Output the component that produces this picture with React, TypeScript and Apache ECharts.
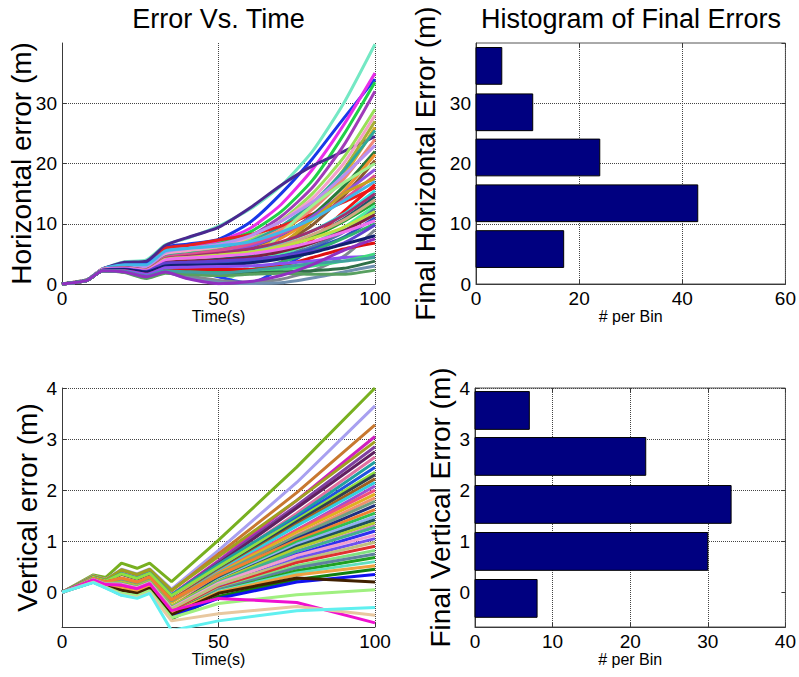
import React, { useEffect, useRef } from 'react';
import * as echarts from 'echarts';

// ---------- data ----------
const hTime = [0, 8, 13, 20, 27, 33, 40, 50, 60, 70, 80, 90, 100];
const hRuns = [
  [0, 0.7, 2.5, 3.7, 4.0, 6.5, 7.6, 9.6, 12.4, 16.3, 22, 30, 39.8],
  [0, 0.7, 2.5, 3.4, 3.5, 6.1, 6.6, 7.4, 10.2, 15, 20.8, 27.5, 34],
  [0, 0.7, 2.5, 3.1, 3.0, 5.6, 6.3, 7.1, 9.2, 13.2, 19, 26.4, 35],
  [0, 0.7, 2.4, 2.9, 2.7, 5.1, 5.8, 6.7, 8.6, 12, 17.2, 24.8, 33.5],
  [0, 0.7, 2.5, 3.6, 3.8, 6.4, 7.7, 9.4, 12.6, 16.4, 19.6, 22, 24.5],
  [0, 0.7, 2.4, 2.8, 2.5, 4.9, 5.4, 6.1, 7.9, 11.2, 16, 23, 32],
  [0, 0.7, 2.4, 2.7, 2.4, 4.6, 5.2, 5.9, 7.4, 10.5, 15, 21, 29],
  [0, 0.7, 2.4, 2.8, 2.6, 5.0, 5.5, 6.2, 7.8, 10.4, 14.2, 20, 28],
  [0, 0.6, 2.4, 2.6, 2.3, 4.2, 4.7, 5.3, 6.6, 9.0, 13, 19, 27],
  [0, 0.6, 2.3, 2.5, 2.2, 3.9, 4.4, 5.0, 6.2, 8.6, 12.5, 18, 26],
  [0, 0.6, 2.4, 2.7, 2.4, 4.5, 5.0, 5.6, 7.0, 9.6, 13.4, 18.8, 25.5],
  [0, 0.7, 2.5, 3.0, 2.8, 5.9, 6.4, 7.3, 8.2, 9.6, 11.6, 13.6, 16],
  [0, 0.6, 2.4, 2.6, 2.3, 4.3, 4.8, 5.4, 6.8, 9.0, 12.4, 17.4, 24],
  [0, 0.7, 2.5, 3.0, 2.9, 5.3, 5.9, 6.6, 8.0, 10.4, 13.6, 18, 23],
  [0, 0.6, 2.3, 2.5, 2.1, 3.6, 4.0, 4.6, 5.8, 8, 11.4, 16.2, 22],
  [0, 0.6, 2.3, 2.4, 2.0, 3.4, 3.9, 4.5, 5.6, 7.6, 10.8, 15.4, 21.5],
  [0, 0.6, 2.3, 2.4, 2.0, 3.5, 3.8, 4.0, 4.8, 6.6, 9.8, 14.6, 20.5],
  [0, 0.6, 2.2, 2.1, 1.2, 2.2, 1.0, 0.2, 3.2, 8.4, 13, 16.8, 20],
  [0, 0.6, 2.3, 2.6, 2.3, 4.0, 4.5, 5.1, 6.2, 8.2, 11.2, 15, 19],
  [0, 0.6, 2.4, 2.7, 2.4, 4.4, 4.9, 5.6, 6.6, 8.4, 10.8, 14, 18],
  [0, 0.6, 2.3, 2.4, 2.0, 3.2, 3.3, 3.5, 4.2, 6.6, 10.6, 15, 17.5],
  [0, 0.7, 2.5, 3.2, 3.2, 5.5, 5.9, 6.3, 7.0, 8.6, 10.8, 13.8, 17],
  [0, 0.6, 2.3, 2.5, 2.1, 3.6, 3.9, 4.2, 4.8, 6.0, 8.0, 10.8, 14.5],
  [0, 0.6, 2.3, 2.4, 2.0, 3.3, 3.0, 2.6, 2.2, 3.6, 7.4, 12, 16.5],
  [0, 0.6, 2.4, 2.6, 2.3, 4.0, 4.3, 4.7, 5.4, 6.8, 8.8, 11.6, 15.5],
  [0, 0.6, 2.3, 2.5, 2.1, 3.4, 2.6, 1.2, 0.1, 2.6, 5.8, 8.8, 12],
  [0, 0.6, 2.3, 2.5, 2.1, 3.5, 3.6, 3.8, 4.4, 5.8, 7.8, 10.4, 13.5],
  [0, 0.6, 2.4, 2.7, 2.4, 4.2, 4.6, 5.1, 5.8, 7.0, 8.8, 11.4, 15],
  [0, 0.6, 2.3, 2.5, 2.2, 3.8, 4.2, 4.6, 5.2, 6.4, 8.2, 10.6, 14],
  [0, 0.6, 2.3, 2.4, 2.0, 3.1, 3.2, 3.4, 3.9, 5.0, 6.8, 9.4, 13],
  [0, 0.6, 2.3, 2.4, 2.0, 3.0, 3.1, 3.2, 3.6, 4.6, 6.2, 8.6, 12.5],
  [0, 0.6, 2.4, 2.6, 2.3, 4.1, 4.4, 4.8, 5.3, 6.2, 7.6, 9.4, 12],
  [0, 0.6, 2.3, 2.5, 2.1, 3.6, 3.8, 4.0, 4.4, 5.4, 6.8, 8.8, 11.5],
  [0, 0.6, 2.3, 2.4, 2.0, 3.2, 3.3, 3.4, 3.8, 4.6, 5.8, 7.8, 11],
  [0, 0.6, 2.4, 2.6, 2.3, 4.0, 4.3, 4.6, 5.0, 5.8, 7.0, 8.6, 10.5],
  [0, 0.6, 2.2, 2.2, 1.6, 2.6, 2.3, 2.0, 2.4, 3.6, 5.4, 7.6, 10],
  [0, 0.6, 2.3, 2.5, 2.1, 3.5, 3.6, 3.8, 4.1, 4.6, 5.4, 6.8, 9.8],
  [0, 0.6, 2.2, 2.1, 1.4, 2.2, 1.4, 0.6, 0.3, 0.8, 2.2, 4.6, 9],
  [0, 0.6, 2.3, 2.4, 2.0, 3.0, 3.1, 3.2, 3.5, 4.2, 5.2, 6.6, 8],
  [0, 0.6, 2.2, 2.2, 1.6, 2.6, 2.5, 2.4, 2.4, 3.0, 4.4, 5.8, 6.8],
  [0, 0.6, 2.2, 2.2, 1.6, 2.7, 2.8, 2.9, 3.0, 3.4, 3.8, 4.4, 4.6],
  [0, 0.6, 2.2, 2.0, 1.2, 2.0, 1.7, 1.5, 1.8, 2.4, 3.0, 3.8, 5],
  [0, 0.6, 2.2, 2.0, 1.2, 2.0, 1.8, 1.6, 1.8, 2.0, 2.2, 2.6, 3.8],
  [0, 0.6, 2.2, 2.0, 1.0, 1.9, 1.0, 0.3, 0.1, 0.2, 1.0, 2.0, 3.0],
  [0, 0.6, 2.2, 1.9, 0.9, 1.8, 1.6, 1.4, 1.6, 1.8, 1.6, 1.6, 2.3],
  [0, 0.6, 2.2, 2.1, 1.3, 2.2, 2.0, 1.8, 2.2, 2.8, 3.4, 3.8, 4.4],
  [0, 0.6, 2.2, 2.0, 1.2, 2.0, 0.9, 0.05, 0.4, 1.4, 3.2, 5.6, 7.5],
];

const vTime = [0, 10, 14, 19, 24, 28, 35, 50, 75, 100];
const vRuns = [
  [0, 0.34, 0.29, 0.57, 0.47, 0.57, 0.21, 1.02, 2.45, 4.0],
  [0, 0.32, 0.25, 0.45, 0.36, 0.46, 0.06, 0.82, 2.15, 3.65],
  [0, 0.31, 0.24, 0.43, 0.34, 0.44, 0.03, 0.75, 1.95, 3.28],
  [0, 0.30, 0.23, 0.37, 0.28, 0.38, -0.05, 0.62, 1.8, 3.05],
  [0, 0.31, 0.24, 0.44, 0.35, 0.45, 0.04, 0.7, 1.8, 2.95],
  [0, 0.29, 0.22, 0.36, 0.27, 0.37, -0.06, 0.6, 1.7, 2.85],
  [0, 0.29, 0.21, 0.35, 0.26, 0.36, -0.08, 0.56, 1.65, 2.75],
  [0, 0.27, 0.19, 0.27, 0.19, 0.29, -0.16, 0.5, 1.55, 2.65],
  [0, 0.29, 0.22, 0.37, 0.28, 0.38, -0.05, 0.55, 1.5, 2.55],
  [0, 0.26, 0.18, 0.25, 0.17, 0.27, -0.18, 0.45, 1.45, 2.45],
  [0, 0.29, 0.22, 0.36, 0.27, 0.37, -0.07, 0.5, 1.42, 2.35],
  [0, 0.27, 0.19, 0.26, 0.18, 0.28, -0.17, 0.42, 1.38, 2.3],
  [0, 0.27, 0.2, 0.27, 0.19, 0.29, -0.15, 0.42, 1.33, 2.22],
  [0, 0.27, 0.19, 0.26, 0.18, 0.28, -0.18, 0.4, 1.3, 2.15],
  [0, 0.25, 0.16, 0.17, 0.1, 0.2, -0.29, 0.32, 1.22, 2.08],
  [0, 0.27, 0.19, 0.25, 0.17, 0.27, -0.19, 0.38, 1.22, 2.0],
  [0, 0.26, 0.18, 0.24, 0.16, 0.26, -0.2, 0.37, 1.18, 1.92],
  [0, 0.25, 0.16, 0.18, 0.11, 0.21, -0.28, 0.3, 1.12, 1.85],
  [0, 0.27, 0.19, 0.26, 0.18, 0.28, -0.17, 0.35, 1.1, 1.78],
  [0, 0.25, 0.15, 0.16, 0.09, 0.19, -0.3, 0.28, 1.05, 1.7],
  [0, 0.27, 0.2, 0.28, 0.2, 0.3, -0.15, 0.33, 1.02, 1.62],
  [0, 0.25, 0.16, 0.17, 0.1, 0.2, -0.29, 0.25, 0.98, 1.55],
  [0, 0.24, 0.15, 0.15, 0.08, 0.18, -0.32, 0.24, 0.94, 1.48],
  [0, 0.25, 0.16, 0.18, 0.11, 0.21, -0.28, 0.22, 0.9, 1.42],
  [0, 0.25, 0.17, 0.19, 0.12, 0.22, -0.27, 0.22, 0.86, 1.36],
  [0, 0.23, 0.13, 0.08, 0.02, 0.12, -0.4, 0.15, 0.8, 1.3],
  [0, 0.25, 0.16, 0.17, 0.1, 0.2, -0.3, 0.2, 0.8, 1.27],
  [0, 0.22, 0.12, 0.06, 0.0, 0.1, -0.42, 0.12, 0.74, 1.2],
  [0, 0.25, 0.16, 0.16, 0.09, 0.19, -0.31, 0.18, 0.72, 1.12],
  [0, 0.23, 0.13, 0.08, 0.02, 0.12, -0.4, 0.1, 0.66, 1.05],
  [0, 0.24, 0.15, 0.14, 0.07, 0.17, -0.33, 0.15, 0.62, 0.98],
  [0, 0.23, 0.13, 0.09, 0.03, 0.13, -0.39, 0.08, 0.58, 0.9],
  [0, 0.23, 0.12, 0.07, 0.01, 0.11, -0.41, 0.06, 0.52, 0.82],
  [0, 0.22, 0.12, 0.06, 0.0, 0.1, -0.42, 0.05, 0.48, 0.75],
  [0, 0.23, 0.13, 0.08, 0.02, 0.12, -0.4, 0.02, 0.42, 0.68],
  [0, 0.22, 0.12, 0.05, -0.01, 0.09, -0.43, 0.02, 0.38, 0.6],
  [0, 0.23, 0.13, 0.08, 0.02, 0.12, -0.4, 0.0, 0.34, 0.52],
  [0, 0.2, 0.1, -0.03, -0.08, 0.02, -0.52, -0.08, 0.25, 0.45],
  [0, 0.2, 0.09, -0.05, -0.1, 0.0, -0.46, -0.12, 0.2, 0.35],
  [0, 0.22, 0.11, 0.04, -0.02, 0.08, -0.44, -0.02, 0.28, 0.2],
  [0, 0.21, 0.1, -0.02, -0.07, 0.03, -0.5, -0.22, -0.05, 0.05],
  [0, 0.24, 0.15, 0.14, 0.07, 0.17, -0.36, -0.12, -0.2, -0.6],
  [0, 0.2, 0.09, -0.05, -0.1, -0.01, -0.56, -0.42, -0.28, -0.45],
  [0, 0.19, 0.08, -0.06, -0.12, -0.02, -0.75, -0.56, -0.36, -0.3],
];

const hBinCenters = [5.8, 13.4, 21.0, 28.5, 36.2];
const hBinCounts = [17, 43, 24, 11, 5];
const hBinWidth = 6.1;
const vBinCenters = [-0.12, 0.8, 1.72, 2.66, 3.56];
const vBinCounts = [8, 30, 33, 22, 7];
const vBinWidth = 0.74;

const vTickValues = [0, 1, 2, 3, 4];

const hColors = ['#74e8c4', '#1838e8', '#e82ee8', '#20d048', '#4a2890', '#a03cb8', '#98e058', '#f4a0c8', '#a8b038', '#d8b030', '#2ea898', '#e82020', '#f08878', '#b890f0', '#2a7a3a', '#f09030', '#8a5a30', '#a0f090', '#9050e0', '#e05090', '#c8a020', '#40b8e8', '#1a5a6a', '#f01818', '#30e0e0', '#2040f0', '#20a030', '#a03070', '#d0a880', '#50f0a0', '#5078a8', '#c0e040', '#802040', '#3050c0', '#f070f0', '#30b070', '#6040d0', '#808890', '#102070', '#e01010', '#8a50f0', '#40d880', '#307048', '#7090b0', '#58a060', '#40a0a0', '#9030c0'];
const vColors = ['#78b020', '#a8a0f0', '#c87830', '#d020c0', '#a0a020', '#8040a0', '#602060', '#e070a0', '#20a0a0', '#2050e0', '#90e040', '#304050', '#a06020', '#30d0e0', '#a050d0', '#f05080', '#e0b020', '#f09070', '#70a080', '#203080', '#f08030', '#30c050', '#90b0f0', '#205060', '#b0d030', '#c080c0', '#40b090', '#3030f0', '#f0a0d0', '#7050f0', '#c0c080', '#e03030', '#80e080', '#6080a0', '#20a020', '#60e0c0', '#f0a040', '#108010', '#1010f0', '#402000', '#a0f080', '#f010d0', '#e8c8a0', '#60f0f0'];

// ---------- styling ----------
const FONT = "'Liberation Sans', Arial, Helvetica, sans-serif";
const AXIS_COLOR = '#3a3a3a';
const GRID_LINE = { type: 'dotted', color: '#444', width: 1 };

function xAxisOf(gridIndex: number, min: number, max: number, interval: number, name: string) {
  return {
    type: 'value', gridIndex, min, max, interval,
    name, nameLocation: 'middle', nameGap: 24, nameMoveOverlap: false,
    nameTextStyle: { fontFamily: FONT, fontSize: 16, color: '#000' },
    axisLine: { show: true, onZero: false, lineStyle: { color: AXIS_COLOR, width: 1 } },
    axisTick: { show: true, inside: true, length: 4, lineStyle: { color: AXIS_COLOR } },
    axisLabel: { fontFamily: FONT, fontSize: 19, color: '#000', margin: 5 },
    splitLine: { show: true, showMinLine: false, lineStyle: GRID_LINE },
  };
}

// mirrored tick marks on the top / right edge of a boxed axes
function mirrorX(gridIndex: number, min: number, max: number, interval: number) {
  return {
    type: 'value', gridIndex, min, max, interval, position: 'top',
    axisLine: { show: false, onZero: false },
    axisTick: { show: true, inside: true, length: 4, lineStyle: { color: AXIS_COLOR } },
    axisLabel: { show: false },
    splitLine: { show: false },
  };
}

function mirrorY(gridIndex: number, min: number, max: number, custom?: number[]) {
  const ax: any = {
    type: 'value', gridIndex, min, max, position: 'right',
    axisLine: { show: false, onZero: false },
    axisTick: { show: true, inside: true, length: 4, lineStyle: { color: AXIS_COLOR } },
    axisLabel: { show: false },
    splitLine: { show: false },
  };
  if (custom) {
    ax.axisTick.customValues = custom;
    ax.axisLabel.customValues = custom;
  } else {
    ax.interval = 10;
  }
  return ax;
}

function yAxisOf(gridIndex: number, min: number, max: number, name: string, nameGap: number, hideMax: boolean, custom?: number[]) {
  const ax: any = {
    type: 'value', gridIndex, min, max, position: 'left',
    name, nameLocation: 'middle', nameGap, nameRotate: 90, nameMoveOverlap: false,
    nameTextStyle: { fontFamily: FONT, fontSize: 28, color: '#000' },
    axisLine: { show: true, onZero: false, lineStyle: { color: AXIS_COLOR, width: 1 } },
    axisTick: { show: true, inside: true, length: 4, lineStyle: { color: AXIS_COLOR } },
    axisLabel: { fontFamily: FONT, fontSize: 19, color: '#000', margin: 5, showMaxLabel: !hideMax },
    splitLine: { show: true, showMinLine: false, showMaxLine: !hideMax, lineStyle: GRID_LINE },
  };
  if (custom) {
    ax.axisLabel.customValues = custom;
    ax.axisTick.customValues = custom;
  } else {
    ax.interval = 10;
  }
  return ax;
}

function lineSeries(times: number[], runs: number[][], colors: string[], axisIndex: number, smooth: number | boolean) {
  return runs.map((row, i) => ({
    type: 'line',
    xAxisIndex: axisIndex,
    yAxisIndex: axisIndex,
    data: times.map((t, j) => [t, row[j]]),
    showSymbol: false,
    smooth,
    silent: true,
    clip: true,
    z: 3,
    lineStyle: { width: 3, color: colors[i % colors.length] },
  }));
}

function histSeries(centers: number[], counts: number[], width: number, axisIndex: number) {
  return {
    type: 'custom',
    xAxisIndex: axisIndex,
    yAxisIndex: axisIndex,
    silent: true,
    z: 3,
    encode: { x: 0, y: 1 },
    data: centers.map((c, i) => [counts[i], c]),
    renderItem: (_params: any, api: any) => {
      const n = api.value(0);
      const c = api.value(1);
      const p0 = api.coord([0, c + width / 2]);
      const p1 = api.coord([n, c - width / 2]);
      return {
        type: 'rect',
        shape: { x: p0[0], y: p0[1], width: p1[0] - p0[0], height: p1[1] - p0[1] },
        style: { fill: '#000080', stroke: '#000', lineWidth: 1 },
      };
    },
  };
}

function buildOption() {
  const boxGrid = { show: true, borderColor: '#555', borderWidth: 1, backgroundColor: 'transparent' };
  return {
    animation: false,
    backgroundColor: '#fff',
    grid: [
      { left: 62, top: 43, width: 313, height: 241 },
      { left: 476, top: 43, width: 311, height: 241, ...boxGrid },
      { left: 62, top: 388, width: 313, height: 239 },
      { left: 475, top: 388, width: 312, height: 239, ...boxGrid },
    ],
    xAxis: [
      xAxisOf(0, 0, 100, 50, 'Time(s)'),
      xAxisOf(1, 0, 60, 20, '# per Bin'),
      xAxisOf(2, 0, 100, 50, 'Time(s)'),
      xAxisOf(3, 0, 40, 10, '# per Bin'),
      mirrorX(1, 0, 60, 20),
      mirrorX(3, 0, 40, 10),
    ],
    yAxis: [
      yAxisOf(0, 0, 40, 'Horizontal error (m)', 27, true),
      yAxisOf(1, 0, 40, 'Final Horizontal Error (m)', 37, true),
      yAxisOf(2, -0.68, 4, 'Vertical error (m)', 21, false, vTickValues),
      yAxisOf(3, -0.68, 4, 'Final Vertical Error (m)', 21, false, vTickValues),
      mirrorY(1, 0, 40),
      mirrorY(3, -0.68, 4, vTickValues),
    ],
    graphic: [
      { type: 'text', x: 218.5, y: 19, style: { text: 'Error Vs. Time', fontFamily: FONT, fontSize: 27, fill: '#000', textAlign: 'center', textVerticalAlign: 'middle' } },
      { type: 'text', x: 631, y: 19, style: { text: 'Histogram of Final Errors', fontFamily: FONT, fontSize: 27, fill: '#000', textAlign: 'center', textVerticalAlign: 'middle' } },
    ],
    series: [
      ...lineSeries(hTime, hRuns, hColors, 0, 0.2),
      histSeries(hBinCenters, hBinCounts, hBinWidth, 1),
      ...lineSeries(vTime, vRuns, vColors, 2, false),
      histSeries(vBinCenters, vBinCounts, vBinWidth, 3),
    ],
  };
}

export default function App() {
  const ref = useRef<HTMLDivElement>(null);
  useEffect(() => {
    if (!ref.current) return;
    const chart = echarts.init(ref.current, null, { renderer: 'svg' });
    chart.setOption(buildOption() as any);
    return () => chart.dispose();
  }, []);
  return (
    <div
      ref={ref}
      style={{ position: 'fixed', left: 0, top: 0, width: 799, height: 677, background: '#fff' }}
    />
  );
}
